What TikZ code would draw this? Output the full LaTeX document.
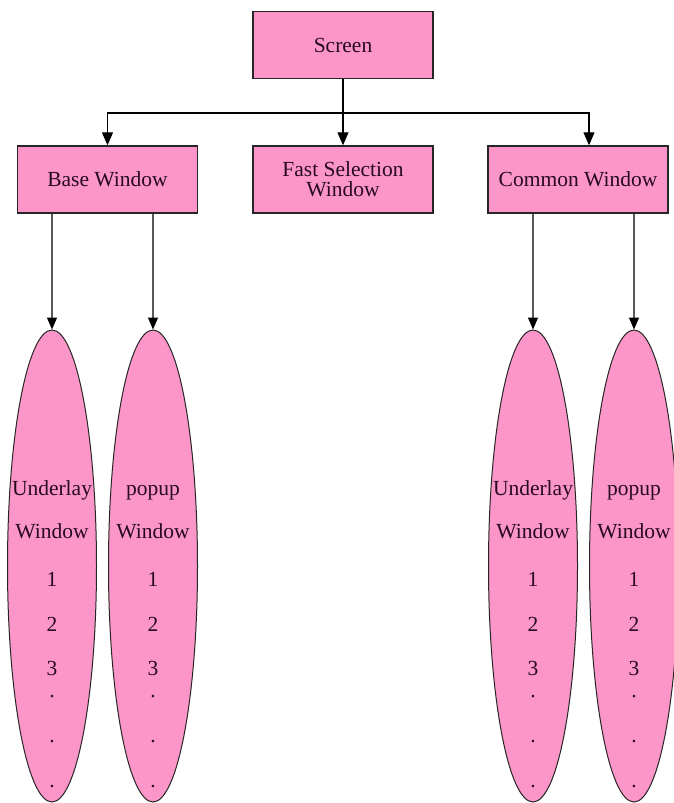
\documentclass[tikz,border=0pt]{standalone}
\usepackage{fontspec}
\setmainfont{Liberation Serif}
\usetikzlibrary{shapes.geometric,arrows.meta}
\definecolor{boxpink}{RGB}{252,150,200}
\definecolor{ink}{RGB}{40,10,30}

\begin{document}
\begin{tikzpicture}[x=1pt,y=-1pt,
  font=\fontsize{21.5}{20}\selectfont, text=ink,
  winbox/.style={draw=black!85, line width=1.4pt, fill=boxpink,
    minimum width=180pt, minimum height=67pt, inner sep=0pt, align=center},
  winoval/.style={ellipse, draw=black!85, line width=1pt, fill=boxpink,
    minimum width=89pt, minimum height=472pt, inner sep=0pt},
  link/.style={draw=black, line width=1.1pt},
  tip/.style={-{Triangle[length=13pt,width=11pt]}},
  drop/.style={draw=black!65, line width=1.2pt, -{Triangle[length=12pt,width=10pt,color=black]}},
  entry/.style={anchor=base, inner sep=0pt}
]
\useasboundingbox (0,0) rectangle (674,803);

% top level and the three window kinds
\node[winbox] (scr) at (343,45) {Screen};
\node[winbox] (bw) at (107.5,179.5) {Base Window};
\node[winbox] (fs) at (343,179.5) {Fast Selection\\Window};
\node[winbox] (cw) at (578,179.5) {Common Window};

% the four window lists
\foreach \n/\x/\w in {ua/52/Underlay, pa/153/popup, ub/533/Underlay, pb/634/popup} {
  \node[winoval] (\n) at (\x,566) {};
  \node[entry] (\n-a) at (\x,495) {\w};
  \node[entry] (\n-b) at (\x,538) {Window};
  \node[entry] (\n-c) at (\x,586) {1};
  \node[entry] (\n-d) at (\x,631) {2};
  \node[entry] (\n-e) at (\x,675) {3};
  \node[entry] (\n-f) at (\x,697) {.};
  \node[entry] (\n-g) at (\x,742) {.};
  \node[entry] (\n-h) at (\x,787) {.};
}

% tree connectors
\coordinate (j) at (343,113);
\draw[link] (scr.south) -- (j);
\draw[link,tip] (j) -| (bw.north);
\draw[link,tip] (j) -- (fs.north);
\draw[link,tip] (j) -| ([xshift=11pt]cw.north);

\draw[drop] (bw.south -| ua.north) -- (ua.north);
\draw[drop] (bw.south -| pa.north) -- (pa.north);
\draw[drop] (cw.south -| ub.north) -- (ub.north);
\draw[drop] (cw.south -| pb.north) -- (pb.north);
\end{tikzpicture}
\end{document}
